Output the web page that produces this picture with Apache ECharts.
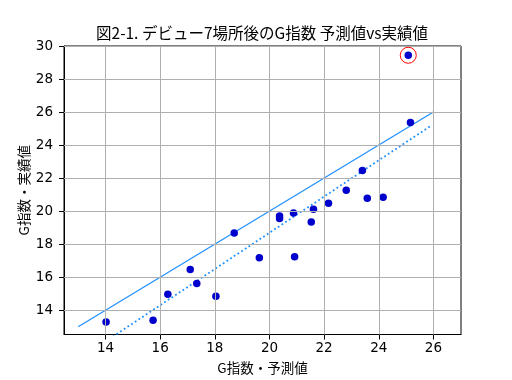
<!DOCTYPE html>
<html>
<head>
<meta charset="utf-8">
<script src="https://cdn.jsdelivr.net/npm/echarts@6/dist/echarts.min.js"></script>
<style>html,body{margin:0;padding:0;background:#fff}#c{width:512px;height:380px}</style>
</head>
<body>
<div id="c"></div>
<script>
// Data
var predicted = [14.02, 15.74, 16.28, 17.10, 17.34, 18.04, 18.71, 19.63, 20.37, 20.37, 20.88, 20.92, 21.53, 21.61, 22.16, 22.81, 23.40, 23.58, 24.16, 25.16, 25.08];
var actual    = [13.28, 13.40, 14.96, 16.46, 15.62, 14.84, 18.68, 17.18, 19.70, 19.56, 19.88, 17.24, 19.34, 20.12, 20.48, 21.26, 22.46, 20.78, 20.84, 25.37, 29.44];
var highlightX = [25.08];
var highlightY = [29.44];
var identityX = [13, 26];
var identityY = [13, 26];
var regressionX = [14, 25.9];
var regressionY = [12.11, 25.16];
var xTicks = [14, 16, 18, 20, 22, 24, 26];
var yTicks = [14, 16, 18, 20, 22, 24, 26, 28, 30];
var titleText = '図2-1. デビュー7場所後のG指数 予測値vs実績値';
var xName = 'G指数・予測値';
var yName = 'G指数・実績値';

function zip(a, b) { return a.map(function (v, i) { return [v, b[i]]; }); }

var gridColor = '#b0b0b0';
var gridLines = xTicks.map(function (v) { return { xAxis: v }; })
  .concat(yTicks.map(function (v) { return { yAxis: v }; }));

var chart = echarts.init(document.getElementById('c'), null, { renderer: 'canvas' });
chart.setOption({
  backgroundColor: '#fff',
  animation: false,
  textStyle: { fontFamily: 'DejaVu Sans, "Noto Sans CJK JP", sans-serif' },
  title: {
    text: titleText,
    left: 262, top: 25, textAlign: 'center', padding: 0,
    textStyle: { fontFamily: '"Noto Sans CJK JP", sans-serif', fontSize: 15.5, fontWeight: 'normal', color: '#000' }
  },
  grid: { left: 64, right: 51, top: 46, bottom: 42, show: true, borderColor: '#000', borderWidth: 1, backgroundColor: 'transparent' },
  xAxis: {
    type: 'value', min: 12.48, max: 27.01,
    name: xName, nameLocation: 'middle', nameGap: 27, nameMoveOverlap: false,
    nameTextStyle: { fontFamily: '"Noto Sans CJK JP", sans-serif', fontSize: 13.5, color: '#000' },
    axisLine: { show: true, onZero: false, lineStyle: { color: '#000', width: 1 } },
    axisTick: { show: true, inside: false, length: 5, customValues: xTicks, lineStyle: { color: '#000', width: 1 } },
    axisLabel: { customValues: xTicks, color: '#000', fontSize: 13.5, margin: 7, fontFamily: 'DejaVu Sans' },
    splitLine: { show: false }
  },
  yAxis: {
    type: 'value', min: 12.53, max: 30,
    name: yName, nameLocation: 'middle', nameGap: 33, nameRotate: 90, nameMoveOverlap: false,
    nameTextStyle: { fontFamily: '"Noto Sans CJK JP", sans-serif', fontSize: 13.5, color: '#000' },
    axisLine: { show: true, onZero: false, lineStyle: { color: '#000', width: 1 } },
    axisTick: { show: true, inside: false, length: 5, customValues: yTicks, lineStyle: { color: '#000', width: 1 } },
    axisLabel: { customValues: yTicks, color: '#000', fontSize: 13.5, margin: 11, fontFamily: 'DejaVu Sans' },
    splitLine: { show: false }
  },
  series: [
    {
      type: 'line', data: [], silent: true, z: 1,
      markLine: {
        silent: true, symbol: 'none', animation: false,
        label: { show: false },
        lineStyle: { color: gridColor, width: 1, type: 'solid' },
        data: gridLines
      }
    },
    {
      type: 'line', data: zip(identityX, identityY), showSymbol: false, symbol: 'none', z: 3,
      lineStyle: { color: '#1e90ff', width: 1.2, type: 'solid' }
    },
    {
      type: 'line', data: zip(regressionX, regressionY), showSymbol: false, symbol: 'none', z: 3, clip: true,
      lineStyle: { color: '#1e90ff', width: 1.8, type: [1.8, 2.6] }
    },
    {
      type: 'scatter', data: zip(predicted, actual), symbol: 'circle', symbolSize: 7.5, z: 4,
      itemStyle: { color: '#0000cd', opacity: 1 }
    },
    {
      type: 'scatter', data: zip(highlightX, highlightY), symbol: 'circle', symbolSize: 16, z: 5,
      itemStyle: { color: 'rgba(0,0,0,0)', borderColor: '#ff0000', borderWidth: 1, opacity: 1 }
    }
  ]
});
</script>
</body>
</html>
